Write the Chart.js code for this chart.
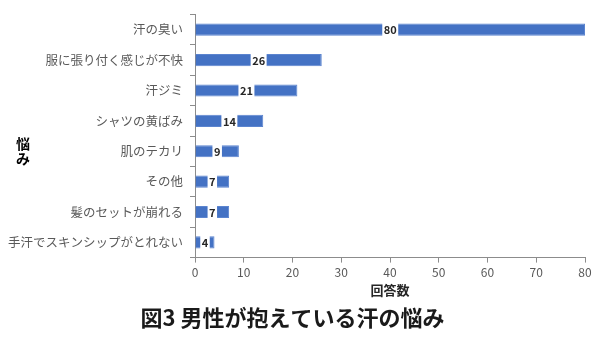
<!DOCTYPE html>
<html><head><meta charset="utf-8">
<script src="https://cdn.jsdelivr.net/npm/chart.js@4"></script>
<style>html,body{margin:0;padding:0;background:#fff}#wrap{width:600px;height:337px}</style>
</head><body><div id="wrap"><canvas id="c" width="600" height="337"></canvas></div>
<script>
const categories = ['汗の臭い','服に張り付く感じが不快','汗ジミ','シャツの黄ばみ','肌のテカリ','その他','髪のセットが崩れる','手汗でスキンシップがとれない'];
const values = [80, 26, 21, 14, 9, 7, 7, 4];
const xTicks = [0,10,20,30,40,50,60,70,80];
const chartTitle = '図3 男性が抱えている汗の悩み';
const xTitle = '回答数';
const yTitleChars = ['悩','み'];
const FONT = '"Noto Sans CJK JP", "Noto Sans", sans-serif';

const labelPlugin = {
  id: 'labels',
  afterDatasetsDraw(chart) {
    const ctx = chart.ctx;
    const meta = chart.getDatasetMeta(0);
    ctx.save();
    ctx.font = 'bold 11px ' + FONT;
    ctx.textAlign = 'center';
    ctx.textBaseline = 'middle';
    meta.data.forEach((bar, i) => {
      const cx = (bar.x + bar.base) / 2;
      const cy = bar.y;
      const t = String(values[i]);
      const w = ctx.measureText(t).width + 3;
      const h = bar.height + 2;
      ctx.fillStyle = '#ffffff';
      ctx.fillRect(cx - w/2, cy - h/2, w, h);
      ctx.fillStyle = '#262626';
      ctx.fillText(t, cx, cy + 0.5);
    });
    ctx.restore();
  },
  afterDraw(chart) {
    const ctx = chart.ctx;
    ctx.save();
    ctx.font = 'bold 14px ' + FONT;
    ctx.textAlign = 'center';
    ctx.textBaseline = 'middle';
    ctx.fillStyle = '#000';
    ctx.fillText(yTitleChars[0], 23, 144);
    ctx.fillText(yTitleChars[1], 23, 159);
    ctx.restore();
  }
};

new Chart(document.getElementById('c'), {
  type: 'bar',
  data: {
    labels: categories,
    datasets: [{
      data: values,
      backgroundColor: '#4472C4',
      borderColor: '#5b84cf',
      borderWidth: 1,
      barPercentage: 0.4,
      categoryPercentage: 1
    }]
  },
  options: {
    indexAxis: 'y',
    responsive: false,
    animation: false,
    layout: { padding: { left: 0, right: 15, top: 7, bottom: 0 } },
    plugins: {
      legend: { display: false },
      tooltip: { enabled: false },
      title: {
        display: true,
        position: 'bottom',
        text: chartTitle,
        color: '#1a1a1a',
        font: { family: FONT, size: 22, weight: 'bold' },
        padding: { top: 7, bottom: 6 }
      }
    },
    scales: {
      x: {
        min: 0, max: 80,
        afterBuildTicks(scale) { scale.ticks = xTicks.map(v => ({ value: v })); },
        afterFit(scale) { scale.height = 40; },
        grid: { display: true, drawOnChartArea: false, drawTicks: true, tickLength: 5, color: '#8c8c8c' },
        border: { display: true, color: '#8c8c8c', width: 1 },
        ticks: { color: '#595959', font: { family: FONT, size: 12 }, padding: 3, maxRotation: 0 },
        title: { display: true, text: xTitle, color: '#262626', font: { family: FONT, size: 13, weight: 'bold' }, padding: { top: 1, bottom: 0 } }
      },
      y: {
        afterFit(scale) { scale.width = 195; },
        grid: { display: true, offset: true, drawOnChartArea: false, drawTicks: true, tickLength: 5, color: '#8c8c8c' },
        border: { display: true, color: '#8c8c8c', width: 1 },
        ticks: { color: '#595959', font: { family: FONT, size: 12.5 }, padding: 7, autoSkip: false }
      }
    }
  },
  plugins: [labelPlugin]
});
</script></body></html>
